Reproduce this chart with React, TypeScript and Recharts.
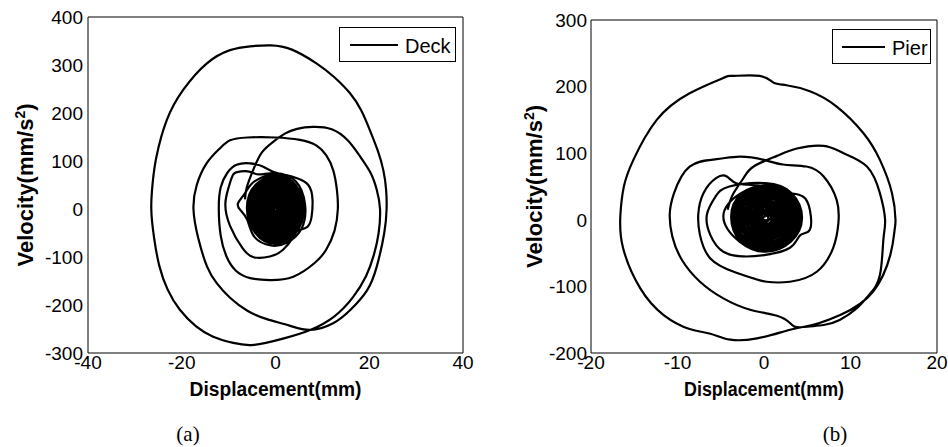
import { LineChart, Line, XAxis, YAxis, Legend } from 'recharts';

type Pt = [number, number];

const FONT = '"Liberation Sans", Arial, Helvetica, sans-serif';
const SERIF = '"Liberation Serif", "Times New Roman", serif';

const deckXTicks = [-40, -20, 0, 20, 40];
const deckYTicks = [-300, -200, -100, 0, 100, 200, 300, 400];
const pierXTicks = [-20, -10, 0, 10, 20];
const pierYTicks = [-200, -100, 0, 100, 200, 300];

// (a) Deck: [displacement mm, velocity]
const deckRise: Pt[] = [
  [-6.5, 20], [-6.1, 46], [-4.6, 85], [-2.9, 118], [-0.5, 140], [2, 157], [4.6, 167], [8, 171],
  [12, 166], [15.4, 143], [18, 110], [20.3, 75], [21.6, 40], [22.3, 0], [22, -50], [21, -95],
  [19.3, -140], [16.5, -184], [12.5, -224], [7.4, -252], [1.6, -270], [-4.6, -283],
];

const deckBig: Pt[] = [
  [-9, -279], [-13.3, -266], [-17, -244], [-20.4, -210], [-23, -168], [-24.8, -118], [-25.9, -60],
  [-26.5, 0], [-26.2, 55], [-25.4, 109], [-23.2, 185], [-19.7, 248], [-14.7, 303], [-9.7, 331],
  [-5.4, 339], [-1, 341], [3.5, 332], [8.8, 303], [12.5, 275], [15.9, 241], [18.3, 205], [20.1, 165],
  [21.8, 122], [23, 81], [23.6, 40], [23.7, 0], [23.2, -50], [21.6, -120], [19.5, -170], [16, -210],
  [12.3, -238], [7.4, -252], [3, -243], [-2, -229], [-6, -212], [-9.7, -185], [-12.5, -155],
  [-14.6, -120], [-16.5, -60], [-17.5, 0],
];

const deckMid: Pt[] = [
  [-16.8, 50], [-14.7, 95], [-12, 125], [-9.7, 143], [-6, 149], [0, 149], [5.2, 144], [8.6, 133],
  [10.8, 112], [12.3, 81], [13.1, 40], [13.3, 0], [12.6, -45], [10.8, -85], [8.4, -112], [3.8, -141],
  [-1.2, -148], [-5.4, -144], [-8.5, -128], [-10.5, -98], [-11.7, -55], [-12.1, 0], [-11.7, 45],
  [-10.3, 75], [-8.3, 92], [-5.4, 95], [-2.6, 88], [-0.4, 77], [2.5, 70], [4.6, 64], [7, 50],
  [7.9, 19], [7.7, -16], [6.8, -37], [4.8, -45], [3.8, -58], [1.6, -85], [-1.2, -99], [-4.5, -101],
  [-7, -82], [-9.7, -35], [-10.7, 10], [-10, 45], [-9, 72], [-7.6, 78], [-5.6, 78], [-3.5, 72],
];

const deckCoreOuter: Pt[] = [
  [0, 75], [4.3, 58], [6.3, 10], [5.6, -40], [2.5, -70], [-1, -76], [-4.5, -58], [-6, -23],
  [-7.5, -2], [-8, 12], [-6.5, 33], [-4.4, 58],
  [0.3, 71], [4.3, 50], [6, -1], [4.2, -51], [-0.2, -72], [-4.3, -50], [-6.1, 2], [-4.2, 51],
  [0.2, 67], [4.1, 48], [5.7, 0], [4, -47], [0, -68], [-4, -47], [-5.8, 1], [-4, 48],
  [0.4, 64], [3.9, 45], [5.4, -2], [3.8, -45], [-0.1, -65], [-3.8, -45], [-5.4, 1], [-3.8, 45],
  [0.3, 60], [3.6, 42], [5.1, 0], [3.6, -43], [0, -61], [-3.6, -42], [-5.1, 2], [-3.6, 42],
  [0.3, 57], [3.4, 40], [4.8, -1], [3.4, -40], [0, -58], [-3.4, -40], [-4.8, 1], [-3.3, 40],
  [0.4, 53], [3.2, 37], [4.5, 0], [3.2, -38], [0, -54], [-3.2, -37], [-4.5, 1], [-3.1, 38],
  [0.3, 50], [3, 35], [4.2, -1], [2.9, -35], [0, -51], [-3, -35], [-4.2, 1], [-2.9, 35],
];

const deckCoreInner: Pt[] = [
  [0.3, 46], [2.8, 32], [3.9, 0], [2.7, -33], [0, -47], [-2.8, -32], [-3.9, 1], [-2.7, 33],
  [0.4, 43], [2.6, 30], [3.6, 0], [2.5, -31], [0, -44], [-2.6, -30], [-3.6, 1], [-2.5, 30],
  [0.3, 39], [2.4, 27], [3.3, -1], [2.3, -28], [0, -40], [-2.3, -27], [-3.3, 1], [-2.3, 27],
  [0.3, 36], [2.2, 25], [3, 0], [2.1, -25], [0, -37], [-2.1, -25], [-3, 1], [-2.1, 25],
  [0.3, 32], [1.9, 22], [2.7, 0], [1.9, -23], [0, -33], [-1.9, -22], [-2.7, 1], [-1.9, 22],
  [0.2, 29], [1.7, 20], [2.4, 0], [1.7, -20], [0, -30], [-1.7, -20], [-2.4, 1], [-1.7, 20],
  [0.2, 25], [1.5, 18], [2.1, 0], [1.5, -18], [0, -26], [-1.5, -17], [-2.1, 1], [-1.4, 18],
  [0.2, 22], [1.3, 15], [1.8, 0], [1.3, -15], [0, -22], [-1.3, -15], [-1.8, 1], [-1.2, 15],
  [0.2, 18], [1.1, 13], [1.5, 0], [1, -13], [0, -19], [-1, -13], [-1.5, 1], [-1, 13],
  [0.1, 14], [0.9, 10], [1.2, 0], [0.8, -10], [0, -15], [-0.8, -10], [-1.2, 0], [-0.8, 10],
  [0.1, 11], [0.6, 8], [0.9, 0], [0.6, -8], [0, -11], [-0.6, -7], [-0.9, 0], [-0.6, 7],
  [0.1, 7], [0.4, 5], [0.6, 0], [0.4, -5], [0, -7], [-0.4, -5], [-0.6, 0], [-0.4, 5],
  [0, 4], [0.3, 0], [0, -4], [-0.3, 0], [0, 2],
];

// (b) Pier: [displacement mm, velocity]
const pierRise: Pt[] = [
  [-4.2, 15], [-3.6, 38], [-2.4, 62], [-1.2, 80], [1.5, 96], [3.8, 107], [6.9, 111], [9.2, 100],
  [11.9, 80], [13.4, 40], [14, 0], [13.8, -30], [13.4, -83], [12.2, -112], [10.7, -133], [8.8, -150],
  [6.9, -158], [4.5, -161], [2.2, -168], [-0.8, -178], [-3.9, -180],
];

const pierBig: Pt[] = [
  [-6.2, -171], [-8.6, -164], [-11.6, -143], [-14.3, -103], [-16.3, -42], [-16.6, 8], [-16.2, 50],
  [-15.1, 90], [-12.4, 150], [-8.6, 190], [-4.7, 213], [-3.6, 216], [-0.5, 216], [1.1, 206],
  [2.6, 202], [5.3, 193], [8.4, 170], [11.5, 130], [13.4, 90], [14.8, 40], [15.2, 0], [15.1, -15],
  [14.6, -53], [12.6, -108], [8.8, -143], [4.5, -161], [3, -155], [1.5, -144], [-1.6, -135],
  [-4.7, -118], [-7.4, -93], [-9.5, -60], [-10.6, -25], [-10.9, 8],
];

const pierMid: Pt[] = [
  [-10.4, 40], [-8.6, 80], [-5.5, 91], [-2.8, 95], [0, 90], [2.2, 83], [4.9, 80], [6.9, 65],
  [8.4, 30], [8.6, -5], [8, -42], [6.1, -78], [3, -93], [0.3, -93], [-1.2, -88], [-3.5, -78],
  [-6.2, -58], [-7.4, -23], [-7.6, 8], [-7, 40], [-5.5, 63], [-4.3, 65], [-3.2, 55], [-1, 52],
  [1.5, 45], [3, 40], [4.5, 35], [5.3, 15], [5.3, -15], [4.2, -23], [3, -42], [0, -53], [-2.4, -55],
  [-4.7, -48], [-6.2, -23], [-6.6, 8], [-5.6, 35], [-4, 50],
];

const pierCoreOuter: Pt[] = [
  [0.2, 55], [3.2, 40], [4.4, 3], [3.1, -33], [0.2, -48], [-2.8, -33], [-4.7, 5], [-2.8, 39],
  [0.3, 52], [3.1, 38], [4.2, 2], [3, -32], [0.1, -46], [-2.7, -32], [-3.8, 4], [-2.7, 38],
  [0.2, 50], [2.9, 36], [4, 3], [2.9, -30], [0.2, -44], [-2.5, -30], [-3.6, 3], [-2.5, 36],
  [0.3, 47], [2.8, 34], [3.8, 2], [2.7, -28], [0.2, -41], [-2.4, -28], [-3.4, 4], [-2.4, 34],
  [0.2, 45], [2.6, 32], [3.6, 3], [2.6, -26], [0.2, -39], [-2.3, -26], [-3.2, 3], [-2.2, 32],
  [0.3, 42], [2.5, 30], [3.4, 3], [2.4, -24], [0.2, -36], [-2.1, -24], [-3, 4], [-2.1, 30],
  [0.2, 40], [2.3, 29], [3.2, 3], [2.3, -23], [0.2, -34], [-2, -23], [-2.8, 3], [-1.9, 29],
  [0.3, 37], [2.2, 27], [3, 2], [2.1, -21], [0.2, -31], [-1.8, -21], [-2.6, 4], [-1.8, 27],
];

const pierCoreInner: Pt[] = [
  [0.2, 35], [2, 25], [2.8, 3], [2, -19], [0.2, -29], [-1.7, -19], [-2.4, 3], [-1.6, 25],
  [0.3, 33], [1.9, 24], [2.6, 3], [1.8, -17], [0.2, -27], [-1.5, -17], [-2.2, 4], [-1.5, 24],
  [0.2, 30], [1.7, 22], [2.4, 3], [1.7, -16], [0.2, -24], [-1.4, -16], [-2, 3], [-1.3, 22],
  [0.3, 28], [1.6, 20], [2.2, 3], [1.5, -14], [0.2, -22], [-1.2, -14], [-1.8, 3], [-1.2, 20],
  [0.2, 25], [1.4, 18], [2, 3], [1.4, -12], [0.2, -19], [-1.1, -12], [-1.6, 3], [-1, 18],
  [0.2, 23], [1.3, 16], [1.8, 3], [1.2, -11], [0.2, -17], [-0.9, -11], [-1.4, 3], [-0.9, 16],
  [0.2, 20], [1.1, 14], [1.6, 3], [1.1, -9], [0.2, -14], [-0.8, -9], [-1.2, 3], [-0.7, 14],
  [0.2, 18], [1, 12], [1.4, 3], [0.9, -7], [0.2, -12], [-0.6, -7], [-1, 3], [-0.6, 12],
  [0.2, 15], [0.9, 11], [1.2, 3], [0.8, -5], [0.2, -9], [-0.5, -5], [-0.8, 3], [-0.5, 11],
  [0.2, 13], [0.7, 9], [1, 3], [0.7, -4], [0.2, -7], [-0.3, -4], [-0.6, 3], [-0.3, 9],
  [0.2, 10], [0.6, 7], [0.8, 3], [0.5, -1], [0.2, -4], [-0.2, -1], [-0.4, 3], [-0.2, 7],
  [0.2, 7], [0.5, 3], [0.2, -1], [-0.2, 3], [0.2, 5],
];

const toRows = (parts: Pt[][]) => parts.flat().map(([x, y]) => ({ x, y }));

const XTitle = ({ viewBox, length, caption, captionX }: any) => {
  const { x, y, width } = viewBox;
  return (
    <g>
      <text
        x={x + width / 2}
        y={y + 43}
        textAnchor="middle"
        fontFamily={FONT}
        fontWeight="bold"
        fontSize={21}
        textLength={length}
        lengthAdjust="spacingAndGlyphs"
        fill="#000"
      >
        Displacement(mm)
      </text>
      <text x={captionX} y={y + 88} textAnchor="middle" fontFamily={SERIF} fontSize={21} fill="#000">
        {caption}
      </text>
    </g>
  );
};

const YTitle = ({ viewBox, baseX }: any) => {
  const cy = viewBox.y + viewBox.height / 2;
  return (
    <text
      x={baseX}
      y={cy}
      transform={`rotate(-90 ${baseX} ${cy})`}
      textAnchor="middle"
      fontFamily={FONT}
      fontWeight="bold"
      fontSize={22}
      fill="#000"
    >
      Velocity(mm/s
      <tspan dy={-8} fontSize={14}>2</tspan>
      <tspan dy={8}>)</tspan>
    </text>
  );
};

const LegendBox = ({ name, lineFrom, lineTo, textX }: any) => (
  <div style={{ width: '100%', height: '100%', border: '1px solid #000', boxSizing: 'border-box', background: '#fff' }}>
    <svg width="100%" height="100%" style={{ display: 'block', overflow: 'visible' }}>
      <line x1={lineFrom} y1={17} x2={lineTo} y2={17} stroke="#000" strokeWidth={2.2} />
      <text x={textX} y={25} fontFamily={FONT} fontSize={20} fill="#000">
        {name}
      </text>
    </svg>
  </div>
);

const tickStyle = { fill: '#000', fontSize: 19, fontFamily: FONT };
const blackLine = { stroke: '#000' };

const Panel = ({ name, rows, xTicks, yTicks, margin, legend, caption, captionX, titleLength, yTitleX, yTickGap }: any) => {
  const xDomain = [xTicks[0], xTicks[xTicks.length - 1]];
  const yDomain = [yTicks[0], yTicks[yTicks.length - 1]];
  return (
    <LineChart width={474} height={447} margin={margin}>
      <XAxis
        xAxisId="x"
        type="number"
        dataKey="x"
        domain={xDomain}
        ticks={xTicks}
        interval={0}
        allowDataOverflow
        height={40}
        tickLine={false}
        tickSize={0}
        tickMargin={3}
        tick={tickStyle}
        axisLine={blackLine}
        label={<XTitle length={titleLength} caption={caption} captionX={captionX} />}
      />
      <XAxis xAxisId="xb" type="number" orientation="bottom" mirror domain={xDomain} ticks={xTicks} interval={0}
        allowDataOverflow tick={false} tickSize={4} tickLine={blackLine} axisLine={false} />
      <XAxis xAxisId="xt" type="number" orientation="top" mirror domain={xDomain} ticks={xTicks} interval={0}
        allowDataOverflow tick={false} tickSize={4} tickLine={blackLine} axisLine={blackLine} />
      <YAxis
        yAxisId="y"
        type="number"
        domain={yDomain}
        ticks={yTicks}
        interval={0}
        allowDataOverflow
        width={60}
        tickLine={false}
        tickSize={0}
        tickMargin={yTickGap}
        tick={tickStyle}
        axisLine={blackLine}
        label={<YTitle baseX={yTitleX} />}
      />
      <YAxis yAxisId="yl" type="number" orientation="left" mirror domain={yDomain} ticks={yTicks} interval={0}
        allowDataOverflow tick={false} tickSize={4} tickLine={blackLine} axisLine={false} />
      <YAxis yAxisId="yr" type="number" orientation="right" mirror domain={yDomain} ticks={yTicks} interval={0}
        allowDataOverflow tick={false} tickSize={4} tickLine={blackLine} axisLine={blackLine} />
      <Legend
        layout="horizontal"
        verticalAlign="middle"
        align="center"
        wrapperStyle={{ left: legend.left, top: legend.top, width: legend.width, height: legend.height }}
        content={() => <LegendBox name={name} lineFrom={legend.lineFrom} lineTo={legend.lineTo} textX={legend.textX} />}
      />
      <Line
        xAxisId="x"
        yAxisId="y"
        data={rows}
        dataKey="y"
        name={name}
        type="natural"
        stroke="#000"
        strokeWidth={2.2}
        dot={false}
        activeDot={false}
        isAnimationActive={false}
      />
    </LineChart>
  );
};

export default function App() {
  return (
    <div style={{ position: 'absolute', left: 0, top: 0, width: 948, height: 447, background: '#fff', overflow: 'hidden' }}>
      <div style={{ position: 'absolute', left: 0, top: 0 }}>
        <Panel
          name="Deck"
          rows={toRows([deckRise, deckBig, deckMid, deckCoreOuter, deckCoreInner])}
          xTicks={deckXTicks}
          yTicks={deckYTicks}
          margin={{ top: 17, right: 11, bottom: 54, left: 28 }}
          legend={{ left: 339, top: 27, width: 117, height: 35, lineFrom: 10, lineTo: 58, textX: 65 }}
          caption="(a)"
          captionX={188}
          titleLength={172}
          yTitleX={33}
          yTickGap={5}
        />
      </div>
      <div style={{ position: 'absolute', left: 474, top: 0 }}>
        <Panel
          name="Pier"
          rows={toRows([pierRise, pierBig, pierMid, pierCoreOuter, pierCoreInner])}
          xTicks={pierXTicks}
          yTicks={pierYTicks}
          margin={{ top: 20, right: 11, bottom: 54, left: 57 }}
          legend={{ left: 358, top: 29, width: 99, height: 35, lineFrom: 9, lineTo: 52, textX: 59 }}
          caption="(b)"
          captionX={361}
          titleLength={160}
          yTitleX={68}
          yTickGap={4}
        />
      </div>
    </div>
  );
}
